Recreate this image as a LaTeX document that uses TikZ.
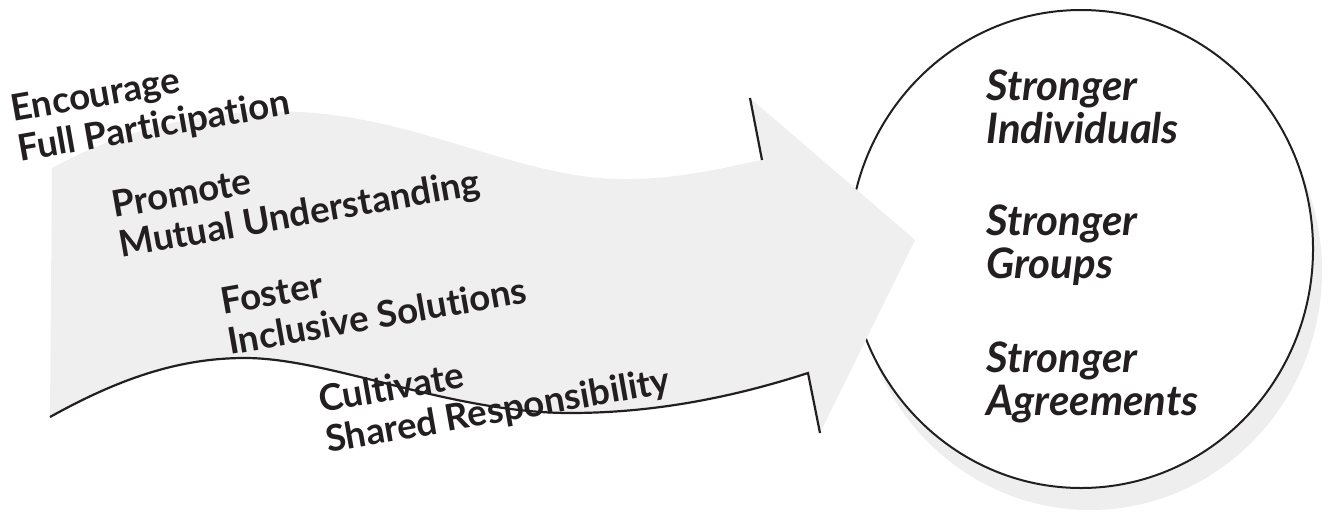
\documentclass[tikz,border=0pt]{standalone}
\usepackage{fontspec}
\setmainfont{Lato}[Ligatures=NoCommon]
\usetikzlibrary{positioning}
\usetikzlibrary{calc}

\definecolor{arrowgray}{HTML}{EFEFEF}
\definecolor{shadowgray}{HTML}{EEEEEE}
\definecolor{inkblack}{HTML}{231F20}

\begin{document}
\begin{tikzpicture}[x=0.5pt,y=-0.5pt,
  edgeline/.style={line width=1.1pt, draw=inkblack},
  leftlbl/.style={font=\fontsize{18.3}{20.3}\selectfont\bfseries, text=inkblack, align=left, rotate=10, anchor=base west, inner sep=0pt},
  rightlbl/.style={font=\fontsize{21}{21.5}\selectfont\bfseries\itshape, text=inkblack, align=left, anchor=base west, inner sep=0pt}]
\useasboundingbox (0,0) rectangle (1331,514);

% outcome circle with its shadow
\fill[shadowgray] (1090,271) ellipse [x radius=232, y radius=239];
\draw[line width=1pt, draw=inkblack, fill=white] (1081,249) ellipse [x radius=232, y radius=239];

% corners of the arrow
\coordinate (topleft) at (52,168);
\coordinate (botleft) at (50,417);
\coordinate (topin) at (762,160);
\coordinate (topbarb) at (750,98);
\coordinate (tip) at (915,240);
\coordinate (botbarb) at (820,433);
\coordinate (botin) at (808,373);

% arrow body
\fill[arrowgray] (topleft) .. controls (130,125) and (220,108) .. (300,112)
  .. controls (420,118) and (520,178) .. (620,179)
  .. controls (680,180) and (730,166) .. (topin)
  -- (topbarb) -- (tip) -- (botbarb) -- (botin)
  .. controls (740,395) and (660,413) .. (570,413)
  .. controls (450,413) and (330,358) .. (245,358)
  .. controls (180,358) and (120,378) .. (botleft) -- cycle;

% arrow outline (bottom and barbs only)
\draw[edgeline] (botleft) .. controls (120,378) and (180,358) .. (245,358)
  .. controls (330,358) and (450,413) .. (570,413)
  .. controls (660,413) and (740,395) .. (botin) -- (botbarb);
\draw[edgeline] (topbarb) -- (topin);

% labels along the arrow (placed at the baseline of their last line)
\node[leftlbl] (encourage) at (20,162) {Encourage\\Full Participation};
\node[leftlbl] (promote) at (121,258) {Promote\\Mutual Understanding};
\node[leftlbl] (foster) at (230,355) {Foster\\Inclusive Solutions};
\node[leftlbl] (cultivate) at (328,453) {Cultivate\\Shared Responsibility};

% labels in the circle
\node[rightlbl] (individuals) at (986,143) {Stronger\\Individuals};
\node[rightlbl] (groups) at (986,278) {Stronger\\Groups};
\node[rightlbl] (agreements) at (986,415) {Stronger\\Agreements};

\end{tikzpicture}
\end{document}
